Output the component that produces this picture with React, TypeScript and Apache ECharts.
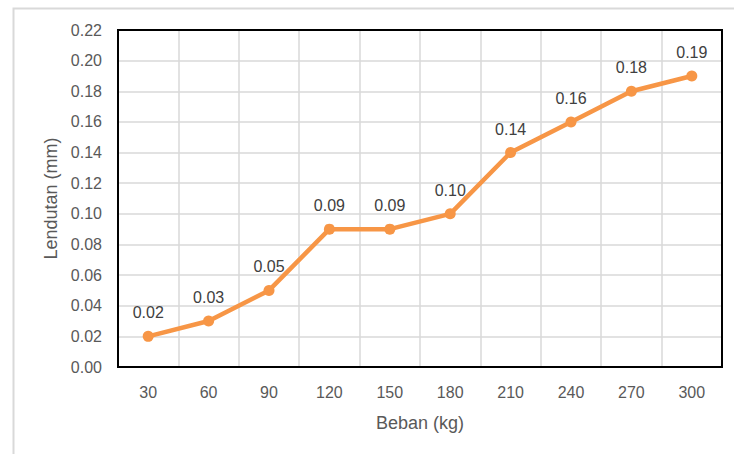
import React, { useEffect, useRef } from "react";
import * as echarts from "echarts";

const beban = ["30", "60", "90", "120", "150", "180", "210", "240", "270", "300"];
const lendutan = [0.02, 0.03, 0.05, 0.09, 0.09, 0.1, 0.14, 0.16, 0.18, 0.19];

const FONT = "'Liberation Sans', 'DejaVu Sans', sans-serif";
const TEXT = "#595959";

const GRID = { left: 118, top: 30, width: 604, height: 337 };

export default function App() {
  const ref = useRef<HTMLDivElement>(null);

  useEffect(() => {
    if (!ref.current) return;
    const chart = echarts.init(ref.current, null, { renderer: "svg" });
    chart.setOption({
      animation: false,
      backgroundColor: "#ffffff",
      textStyle: { fontFamily: FONT },
      graphic: [
        {
          type: "rect",
          left: 11,
          top: 6,
          shape: { x: 0, y: 0, width: 800, height: 500 },
          style: { fill: "none", stroke: "#d9d9d9", lineWidth: 2 },
          silent: true,
          z: -1,
        },
        {
          // plot-area frame, drawn above the grid lines
          type: "rect",
          x: GRID.left,
          y: GRID.top,
          shape: { x: 0, y: 0, width: GRID.width, height: GRID.height },
          style: { fill: "none", stroke: "#000000", lineWidth: 2 },
          silent: true,
          z: 1,
        },
      ],
      grid: { ...GRID },
      xAxis: {
        type: "category",
        data: beban,
        boundaryGap: true,
        name: "Beban (kg)",
        nameLocation: "middle",
        nameGap: 47,
        nameTextStyle: { color: TEXT, fontSize: 18, fontFamily: FONT },
        axisLine: { show: false },
        axisTick: { show: false },
        axisLabel: { color: TEXT, fontSize: 16, margin: 17, fontFamily: FONT },
        splitLine: { show: true, lineStyle: { color: "#d9d9d9", width: 1.5 } },
      },
      yAxis: {
        type: "value",
        min: 0,
        max: 0.22,
        interval: 0.02,
        name: "Lendutan (mm)",
        nameLocation: "middle",
        nameGap: 56,
        nameRotate: 90,
        nameTextStyle: { color: TEXT, fontSize: 18, fontFamily: FONT },
        axisLine: { show: false },
        axisTick: { show: false },
        axisLabel: {
          color: TEXT,
          fontSize: 16,
          margin: 16,
          fontFamily: FONT,
          formatter: (v: number) => v.toFixed(2),
        },
        splitLine: { show: true, lineStyle: { color: "#d9d9d9", width: 1.5 } },
      },
      series: [
        {
          type: "line",
          data: lendutan,
          symbol: "circle",
          symbolSize: 11,
          itemStyle: { color: "#F79646" },
          lineStyle: { color: "#F79646", width: 4.5 },
          label: {
            show: true,
            position: "top",
            distance: 10,
            color: "#404040",
            fontSize: 16,
            fontFamily: FONT,
            formatter: (p: any) => Number(p.value).toFixed(2),
          },
        },
      ],
    });
    return () => chart.dispose();
  }, []);

  return (
    <div
      ref={ref}
      style={{ position: "fixed", left: 0, top: 0, width: 734, height: 454 }}
    />
  );
}
